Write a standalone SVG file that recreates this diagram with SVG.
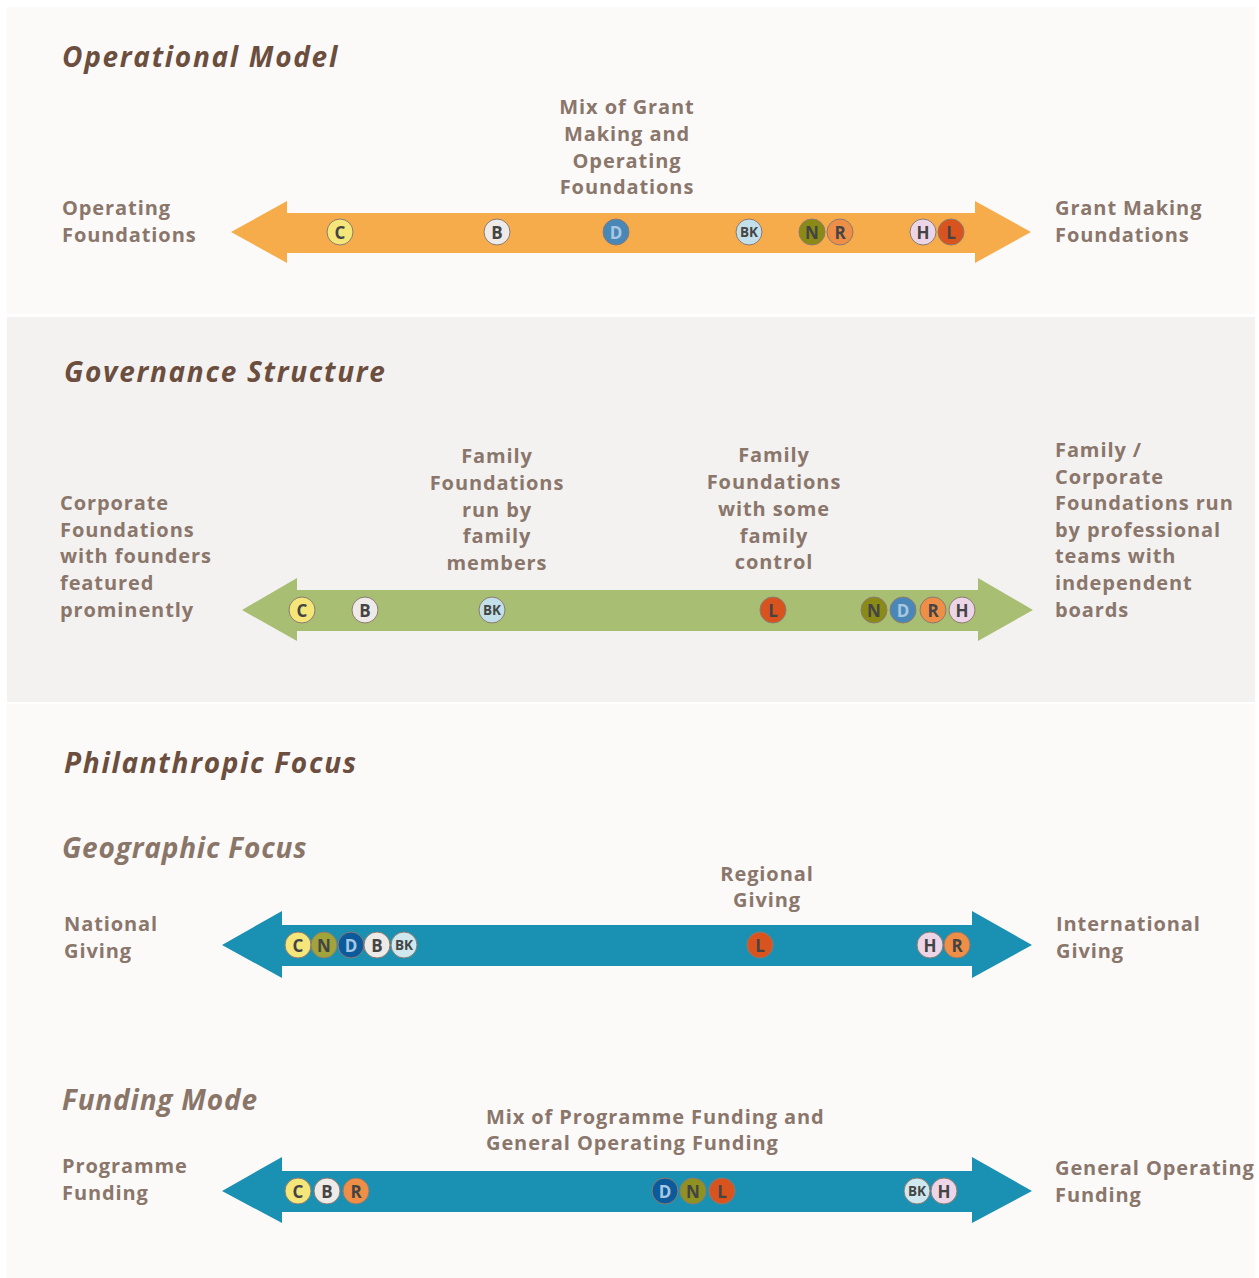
<svg xmlns="http://www.w3.org/2000/svg" width="1259" height="1278" viewBox="0 0 1259 1278">
<style>
.title{font-family:"Open Sans","Liberation Sans",sans-serif;font-weight:700;font-style:italic;font-size:28px;fill:#6B4E3D;letter-spacing:1.7px}
.title.sub{fill:#8A7669;letter-spacing:0.8px}
.lbl{font-family:"Open Sans","Liberation Sans",sans-serif;font-weight:700;font-size:20px;fill:#8A766B;letter-spacing:0.9px}
.mid{text-anchor:middle}
.dot circle{stroke:#8C7B70;stroke-width:1}
.dot text{font-family:"Open Sans","Liberation Sans",sans-serif;font-weight:700;font-size:17px;fill:#444;text-anchor:middle;dominant-baseline:central}
.dot text.sm{font-size:13.5px}
.cC{fill:#F5E67A}.cB{fill:#EEEAE7}.cD{fill:#4A87B9}.cBK{fill:#C3E0EA}.cN{fill:#8A8A16}.cR{fill:#EF8F47}.cH{fill:#EDD5E8}.cL{fill:#D9531E}
.tD{fill:#A9C7E0 !important}
</style>
<rect width="1259" height="1278" fill="#FFFFFF"/>
<rect x="7" y="7" width="1248" height="307" fill="#FBFAF9"/>
<rect x="7" y="317" width="1248" height="385" fill="#F3F2F1"/>
<rect x="7" y="704" width="1248" height="574" fill="#FBFAF9"/>

<g id="connectors">
<polygon fill="#F7AC4B" points="231,232 287,201 287,213 975,213 975,201 1031,232 975,263 975,253 287,253 287,263"/>
<polygon fill="#A8BE72" points="242,610 297,578 297,590 978,590 978,578 1033,610 978,641 978,631 297,631 297,641"/>
<polygon fill="#1A90B2" points="222,945 282,911 282,925 972,925 972,911 1032,945 972,978 972,966 282,966 282,978"/>
<polygon fill="#1A90B2" points="222,1191 282,1157 282,1171 972,1171 972,1157 1032,1191 972,1223 972,1212 282,1212 282,1223"/>
</g>

<g id="titles">
<text class="title" x="62" y="67">Operational Model</text>
<text class="title" x="64" y="382">Governance Structure</text>
<text class="title" x="64" y="773">Philanthropic Focus</text>
<text class="title sub" x="62" y="858">Geographic Focus</text>
<text class="title sub" x="62" y="1110">Funding Mode</text>
</g>

<g id="labels-operational">
<text class="lbl mid" x="627"><tspan x="627" y="114">Mix of Grant</tspan><tspan x="627" y="141">Making and</tspan><tspan x="627" y="168">Operating</tspan><tspan x="627" y="194">Foundations</tspan></text>
<text class="lbl" x="62"><tspan x="62" y="215">Operating</tspan><tspan x="62" y="242">Foundations</tspan></text>
<text class="lbl" x="1055"><tspan x="1055" y="215">Grant Making</tspan><tspan x="1055" y="242">Foundations</tspan></text>
</g>

<g id="labels-governance">
<text class="lbl" x="60"><tspan x="60" y="510">Corporate</tspan><tspan x="60" y="537">Foundations</tspan><tspan x="60" y="563">with founders</tspan><tspan x="60" y="590">featured</tspan><tspan x="60" y="617">prominently</tspan></text>
<text class="lbl mid" x="497"><tspan x="497" y="463">Family</tspan><tspan x="497" y="490">Foundations</tspan><tspan x="497" y="517">run by</tspan><tspan x="497" y="543">family</tspan><tspan x="497" y="570">members</tspan></text>
<text class="lbl mid" x="774"><tspan x="774" y="462">Family</tspan><tspan x="774" y="489">Foundations</tspan><tspan x="774" y="516">with some</tspan><tspan x="774" y="543">family</tspan><tspan x="774" y="569">control</tspan></text>
<text class="lbl" x="1055"><tspan x="1055" y="457">Family /</tspan><tspan x="1055" y="484">Corporate</tspan><tspan x="1055" y="510">Foundations run</tspan><tspan x="1055" y="537">by professional</tspan><tspan x="1055" y="563">teams with</tspan><tspan x="1055" y="590">independent</tspan><tspan x="1055" y="617">boards</tspan></text>
</g>

<g id="labels-geographic">
<text class="lbl" x="64"><tspan x="64" y="931">National</tspan><tspan x="64" y="958">Giving</tspan></text>
<text class="lbl mid" x="767"><tspan x="767" y="881">Regional</tspan><tspan x="767" y="907">Giving</tspan></text>
<text class="lbl" x="1056"><tspan x="1056" y="931">International</tspan><tspan x="1056" y="958">Giving</tspan></text>
</g>

<g id="labels-funding">
<text class="lbl" x="486"><tspan x="486" y="1124">Mix of Programme Funding and</tspan><tspan x="486" y="1150">General Operating Funding</tspan></text>
<text class="lbl" x="62"><tspan x="62" y="1173">Programme</tspan><tspan x="62" y="1200">Funding</tspan></text>
<text class="lbl" x="1055"><tspan x="1055" y="1175">General Operating</tspan><tspan x="1055" y="1202">Funding</tspan></text>
</g>

<g id="dots-operational" class="dot">
<g id="op-C"><circle class="cC" cx="340" cy="232" r="13"/><text x="340" y="232">C</text></g>
<g id="op-B"><circle class="cB" cx="497" cy="232" r="13"/><text x="497" y="232">B</text></g>
<g id="op-D"><circle class="cD" cx="616" cy="232" r="13"/><text class="tD" x="616" y="232">D</text></g>
<g id="op-BK"><circle class="cBK" cx="749" cy="232" r="13"/><text class="sm" x="749" y="232">BK</text></g>
<g id="op-N"><circle class="cN" cx="812" cy="232" r="13"/><text x="812" y="232">N</text></g>
<g id="op-R"><circle class="cR" cx="840" cy="232" r="13"/><text x="840" y="232">R</text></g>
<g id="op-H"><circle class="cH" cx="923" cy="232" r="13"/><text x="923" y="232">H</text></g>
<g id="op-L"><circle class="cL" cx="951" cy="232" r="13"/><text x="951" y="232">L</text></g>
</g>

<g id="dots-governance" class="dot">
<g id="gv-C"><circle class="cC" cx="302" cy="610" r="13"/><text x="302" y="610">C</text></g>
<g id="gv-B"><circle class="cB" cx="365" cy="610" r="13"/><text x="365" y="610">B</text></g>
<g id="gv-BK"><circle class="cBK" cx="492" cy="610" r="13"/><text class="sm" x="492" y="610">BK</text></g>
<g id="gv-L"><circle class="cL" cx="773" cy="610" r="13"/><text x="773" y="610">L</text></g>
<g id="gv-N"><circle class="cN" cx="874" cy="610" r="13"/><text x="874" y="610">N</text></g>
<g id="gv-D"><circle class="cD" cx="903" cy="610" r="13"/><text class="tD" x="903" y="610">D</text></g>
<g id="gv-R"><circle class="cR" cx="933" cy="610" r="13"/><text x="933" y="610">R</text></g>
<g id="gv-H"><circle class="cH" cx="962" cy="610" r="13"/><text x="962" y="610">H</text></g>
</g>

<g id="dots-geographic" class="dot">
<g id="geo-C"><circle class="cC" cx="298" cy="945" r="13"/><text x="298" y="945">C</text></g>
<g id="geo-N"><circle fill="#A0A43A" cx="324" cy="945" r="13"/><text x="324" y="945">N</text></g>
<g id="geo-D"><circle fill="#0A5A9C" cx="351" cy="945" r="13"/><text class="tD" x="351" y="945">D</text></g>
<g id="geo-B"><circle class="cB" cx="377" cy="945" r="13"/><text x="377" y="945">B</text></g>
<g id="geo-BK"><circle fill="#CFE7EF" cx="404" cy="945" r="13"/><text class="sm" x="404" y="945">BK</text></g>
<g id="geo-L"><circle class="cL" cx="760" cy="945" r="13"/><text x="760" y="945">L</text></g>
<g id="geo-H"><circle class="cH" cx="930" cy="945" r="13"/><text x="930" y="945">H</text></g>
<g id="geo-R"><circle class="cR" cx="957" cy="945" r="13"/><text x="957" y="945">R</text></g>
</g>

<g id="dots-funding" class="dot">
<g id="fm-C"><circle class="cC" cx="298" cy="1191" r="13"/><text x="298" y="1191">C</text></g>
<g id="fm-B"><circle class="cB" cx="327" cy="1191" r="13"/><text x="327" y="1191">B</text></g>
<g id="fm-R"><circle class="cR" cx="356" cy="1191" r="13"/><text x="356" y="1191">R</text></g>
<g id="fm-D"><circle fill="#0A5A9C" cx="665" cy="1191" r="13"/><text class="tD" x="665" y="1191">D</text></g>
<g id="fm-N"><circle fill="#8F9120" cx="693" cy="1191" r="13"/><text x="693" y="1191">N</text></g>
<g id="fm-L"><circle class="cL" cx="722" cy="1191" r="13"/><text x="722" y="1191">L</text></g>
<g id="fm-BK"><circle fill="#CFE7EF" cx="917" cy="1191" r="13"/><text class="sm" x="917" y="1191">BK</text></g>
<g id="fm-H"><circle class="cH" cx="944" cy="1191" r="13"/><text x="944" y="1191">H</text></g>
</g>
</svg>
